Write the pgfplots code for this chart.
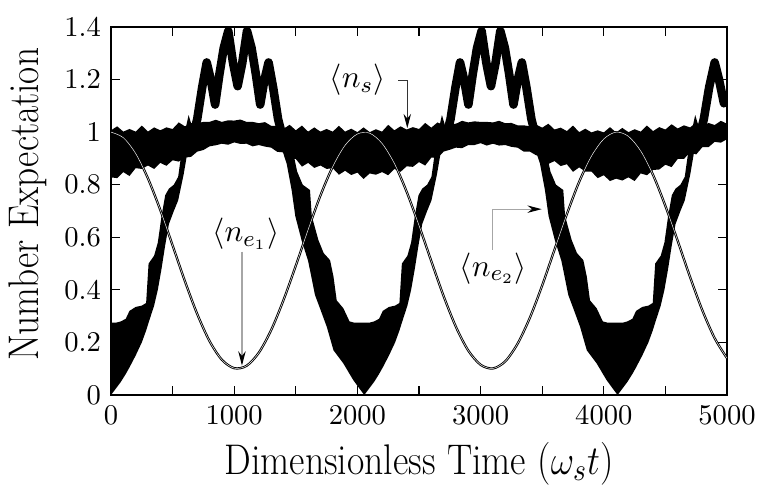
\documentclass[border=0pt]{standalone}
\usepackage{graphicx}
\usepackage{pgfplots}
\pgfplotsset{compat=1.18}
\usetikzlibrary{arrows.meta}
\begin{document}
\begin{tikzpicture}
\begin{axis}[
  scale only axis, width=215.6pt, height=128.8pt,
  xmin=0, xmax=5000, ymin=0, ymax=1.4,
  xtick={0,1000,2000,3000,4000,5000},
  xticklabels={0,1000,2000,3000,4000,5000},
  minor xtick={500,1500,2500,3500,4500},
  ytick={0,0.2,0.4,0.6,0.8,1,1.2,1.4},
  major tick length=3.2pt, minor tick length=3.2pt,
  tick style={black, line width=0.4pt},
  axis line style={line width=0.5pt},
  tick label style={font=\normalsize},
  xlabel={\scalebox{0.88}[1]{Dimensionless Time ($\omega_s t$)}},
  ylabel={\scalebox{0.87}[1]{Number Expectation}},
  label style={font=\fontsize{15}{18}\selectfont},
  xlabel style={at={([yshift=-27.8pt]axis description cs:0.5,0)}, anchor=base},
  ylabel style={at={([xshift=-25.4pt]axis description cs:0,0.518)}, anchor=base},
]
% n_s band
\addplot[fill=black, draw=none] coordinates {
(0,1.007) (50,1.022) (100,1.002) (150,1.012) (200,1.002) (250,1.025) (300,1.002) (350,1.018) (400,1.007) (450,1.018)
(500,1.012) (550,1.037) (600,1.022) (650,1.034) (700,1.034) (750,1.039) (800,1.039) (850,1.047) (900,1.039) (950,1.045)
(1000,1.044) (1050,1.048) (1100,1.039) (1150,1.039) (1200,1.034) (1250,1.038) (1300,1.024) (1350,1.023) (1400,1.012) (1450,1.028)
(1500,1.007) (1550,1.025) (1600,1.002) (1650,1.018) (1700,1.002) (1750,1.012) (1800,1.002) (1850,1.024) (1900,1.002) (1950,1.013)
(2000,1.000) (2050,1.018) (2100,1.000) (2150,1.011) (2200,1.002) (2250,1.028) (2300,1.007) (2350,1.022) (2400,1.010) (2450,1.019)
(2500,1.012) (2550,1.035) (2600,1.017) (2650,1.037) (2700,1.026) (2750,1.031) (2800,1.032) (2850,1.043) (2900,1.037) (2950,1.041)
(3000,1.039) (3050,1.039) (3100,1.037) (3150,1.043) (3200,1.034) (3250,1.035) (3300,1.026) (3350,1.026) (3400,1.022) (3450,1.029)
(3500,1.017) (3550,1.032) (3600,1.010) (3650,1.017) (3700,1.004) (3750,1.025) (3800,1.000) (3850,1.013) (3900,0.999) (3950,1.007)
(4000,0.999) (4050,1.019) (4100,0.999) (4150,1.016) (4200,1.000) (4250,1.011) (4300,1.002) (4350,1.025) (4400,1.004) (4450,1.019)
(4500,1.010) (4550,1.030) (4600,1.014) (4650,1.026) (4700,1.018) (4750,1.036) (4800,1.022) (4850,1.035) (4900,1.027) (4950,1.043)
(5000,1.032)
(5000,0.973) (4950,0.960) (4900,0.963) (4850,0.943) (4800,0.943) (4750,0.915) (4700,0.923) (4650,0.898) (4600,0.898) (4550,0.867)
(4500,0.876) (4450,0.858) (4400,0.856) (4350,0.836) (4300,0.843) (4250,0.814) (4200,0.828) (4150,0.816) (4100,0.823) (4050,0.814)
(4000,0.836) (3950,0.825) (3900,0.850) (3850,0.850) (3800,0.866) (3750,0.849) (3700,0.878) (3650,0.871) (3600,0.890) (3550,0.879)
(3500,0.908) (3450,0.912) (3400,0.926) (3350,0.926) (3300,0.941) (3250,0.944) (3200,0.951) (3150,0.949) (3100,0.956) (3050,0.949)
(3000,0.958) (2950,0.951) (2900,0.951) (2850,0.939) (2800,0.941) (2750,0.933) (2700,0.926) (2650,0.902) (2600,0.903) (2550,0.873)
(2500,0.886) (2450,0.868) (2400,0.870) (2350,0.849) (2300,0.860) (2250,0.836) (2200,0.848) (2150,0.838) (2100,0.843) (2050,0.822)
(2000,0.846) (1950,0.837) (1900,0.853) (1850,0.838) (1800,0.863) (1750,0.860) (1700,0.873) (1650,0.864) (1600,0.883) (1550,0.869)
(1500,0.898) (1450,0.900) (1400,0.923) (1350,0.925) (1300,0.941) (1250,0.945) (1200,0.951) (1150,0.946) (1100,0.956) (1050,0.955)
(1000,0.961) (950,0.952) (900,0.956) (850,0.950) (800,0.946) (750,0.932) (700,0.926) (650,0.906) (600,0.903) (550,0.888)
(500,0.893) (450,0.872) (400,0.883) (350,0.860) (300,0.873) (250,0.860) (200,0.863) (150,0.833) (100,0.848) (50,0.825)
(0,0.828)
} -- cycle;
% n_e2 wide parts
\addplot[fill=black, draw=none] coordinates {
(0,.275) (40,.275) (80,.280) (120,.290) (150,.320) (200,.335) (250,.340) (285,.350) (305,.500) (350,.530)
(380,.580) (410,.680) (440,.760) (470,.785) (510,.800) (545,.830) (590,.980) (630,1.065) (665,1.010) (700,1.080)
(700,1.020) (665,.960) (630,.950) (590,.840) (545,.740) (510,.700) (470,.650) (440,.570) (410,.480) (380,.400)
(350,.340) (305,.275) (285,.245) (250,.200) (200,.150) (150,.105) (120,.080) (80,.050) (40,.025) (0,0)
} -- cycle;
\addplot[fill=black, draw=none] coordinates {
(1356,1.080) (1391,1.010) (1426,1.020) (1466,.950) (1511,.850) (1556,.800) (1615,.780) (1630,.680) (1683,.590) (1726,.540)
(1778,.513) (1806,.450) (1832,.360) (1886,.330) (1936,.280) (1976,.275) (2016,.275) (2056,.275)
(2096,.275) (2136,.280) (2176,.290) (2206,.320) (2256,.335) (2306,.340) (2341,.350) (2361,.500) (2406,.530) (2436,.580)
(2466,.680) (2496,.760) (2526,.785) (2566,.800) (2601,.830) (2646,.980) (2686,1.065) (2721,1.010) (2756,1.080)
(2756,1.020) (2721,.960) (2686,.950) (2646,.840) (2601,.740) (2566,.700) (2526,.650) (2496,.570) (2466,.480) (2436,.400)
(2406,.340) (2361,.275) (2341,.245) (2306,.200) (2256,.150) (2206,.105) (2176,.080) (2136,.050) (2096,.025) (2056,0)
(2016,.025) (1966,.057) (1886,.120) (1806,.170) (1751,.260) (1696,.330) (1656,.380) (1600,.510) (1546,.590) (1496,.680)
(1466,.780) (1426,.880) (1391,.930) (1356,1.000)
} -- cycle;
\addplot[fill=black, draw=none] coordinates {
(3412,1.080) (3447,1.010) (3482,1.020) (3522,.950) (3567,.850) (3612,.800) (3671,.780) (3686,.680) (3739,.590) (3782,.540)
(3834,.513) (3862,.450) (3888,.360) (3942,.330) (3992,.280) (4032,.275) (4072,.275) (4112,.275)
(4152,.275) (4192,.280) (4232,.290) (4262,.320) (4312,.335) (4362,.340) (4397,.350) (4417,.500) (4462,.530) (4492,.580)
(4522,.680) (4552,.760) (4582,.785) (4622,.800) (4657,.830) (4702,.980) (4742,1.065) (4777,1.010) (4812,1.080)
(4812,1.020) (4777,.960) (4742,.950) (4702,.840) (4657,.740) (4622,.700) (4582,.650) (4552,.570) (4522,.480) (4492,.400)
(4462,.340) (4417,.275) (4397,.245) (4362,.200) (4312,.150) (4262,.105) (4232,.080) (4192,.050) (4152,.025) (4112,0)
(4072,.025) (4022,.057) (3942,.120) (3862,.170) (3807,.260) (3752,.330) (3712,.380) (3656,.510) (3602,.590) (3552,.680)
(3522,.780) (3482,.880) (3447,.930) (3412,1.000)
} -- cycle;
% n_e2 thick parts
\addplot[black, line width=3pt, line join=round] coordinates {
(650,1.00) (665,.985) (700,1.05) (740,1.17) (777,1.265) (810,1.20) (845,1.105) (880,1.22) (915,1.32) (952,1.385)
(990,1.265) (1028,1.175) (1066,1.265) (1104,1.385) (1141,1.32) (1176,1.22) (1211,1.105) (1246,1.20) (1279,1.265) (1316,1.17)
(1356,1.05) (1391,.985) (1406,1.00)
};
\addplot[black, line width=3pt, line join=round] coordinates {
(2706,1.00) (2721,.985) (2756,1.05) (2796,1.17) (2833,1.265) (2866,1.20) (2901,1.105) (2936,1.22) (2971,1.32) (3008,1.385)
(3046,1.265) (3084,1.175) (3122,1.265) (3160,1.385) (3197,1.32) (3232,1.22) (3267,1.105) (3302,1.20) (3335,1.265) (3372,1.17)
(3412,1.05) (3447,.985) (3462,1.00)
};
\addplot[black, line width=3pt, line join=round] coordinates {
(4762,1.00) (4777,.985) (4812,1.05) (4855,1.17) (4900,1.265) (4935,1.20) (4975,1.11) (5000,1.15)
};
% n_e1
\addplot[smooth, draw=black, line width=0.32pt, double=white, double distance=0.16pt] coordinates {
(0,1.000) (100,0.979) (200,0.919) (300,0.824) (400,0.704) (500,0.569) (600,0.433) (700,0.308) (800,0.205) (900,0.134)
(1000,0.102) (1100,0.111) (1200,0.161) (1300,0.247) (1400,0.361) (1500,0.492) (1600,0.629) (1700,0.759) (1800,0.869) (1900,0.950)
(2000,0.993) (2100,0.996) (2200,0.957) (2300,0.881) (2400,0.773) (2500,0.645) (2600,0.509) (2700,0.376) (2800,0.259) (2900,0.169)
(3000,0.115) (3100,0.101) (3200,0.128) (3300,0.195) (3400,0.294) (3500,0.417) (3600,0.553) (3700,0.688) (3800,0.811) (3900,0.909)
(4000,0.974) (4100,1.000) (4200,0.984) (4300,0.928) (4400,0.837) (4500,0.719) (4600,0.586) (4700,0.449) (4800,0.322) (4900,0.216)
(5000,0.140)
};
% annotations
\node[font=\fontsize{11}{13}\selectfont] at (axis cs:2001,1.20) {$\langle n_s\rangle$};
\draw[black!80, line width=0.4pt, -{Stealth[length=5pt, width=2.6pt, black]}] (axis cs:2332,1.198) -- (axis cs:2405,1.198) -- (axis cs:2405,1.015);
\node[font=\fontsize{11}{13}\selectfont] at (axis cs:1095,0.612) {$\langle n_{e_1}\rangle$};
\draw[gray!70, line width=0.4pt, -{Stealth[length=5pt, width=2.6pt, black]}] (axis cs:1063,0.545) -- (axis cs:1063,0.112);
\node[font=\fontsize{11}{13}\selectfont] at (axis cs:3103,0.482) {$\langle n_{e_2}\rangle$};
\draw[gray!70, line width=0.4pt, -{Stealth[length=5pt, width=2.6pt, black]}] (axis cs:3098,0.552) -- (axis cs:3098,0.707) -- (axis cs:3496,0.707);
\end{axis}
\pgfresetboundingbox
\path ([shift={(-38.85pt,-35.35pt)}]current axis.south west) rectangle ([shift={(15.4pt,9.45pt)}]current axis.north east);
\end{tikzpicture}
\end{document}
